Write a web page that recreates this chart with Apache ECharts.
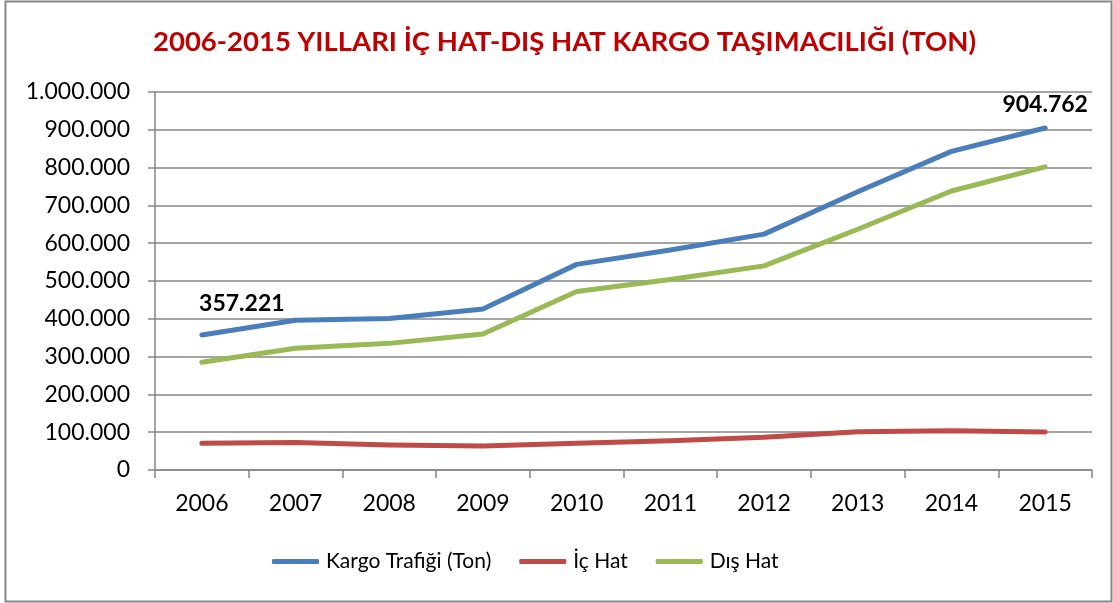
<!DOCTYPE html>
<html>
<head>
<meta charset="utf-8">
<script src="https://cdn.jsdelivr.net/npm/echarts@6/dist/echarts.min.js"></script>
<style>
  html, body { margin: 0; padding: 0; background: #fff; }
  #main { width: 1113px; height: 603px; }
</style>
</head>
<body>
<div id="main"></div>
<script>
// yillar
var years = ['2006', '2007', '2008', '2009', '2010', '2011', '2012', '2013', '2014', '2015'];
// toplam kargo trafigi (ton)
var kargo = [357221, 396000, 401000, 426000, 544000, 582000, 624000, 736000, 843000, 904762];
// ic hat
var icHat = [70500, 73000, 66000, 63500, 71000, 77500, 86500, 101000, 104000, 100500];
// dis hat
var disHat = [285000, 322000, 335000, 360000, 472000, 504000, 540000, 637000, 738000, 802000];

var FONT = 'Lato';
var GRAY = '#868686';

// 1.000.000 gibi nokta ayracli yazim
function fmt(v) {
    return String(Math.round(v)).replace(/\B(?=(\d{3})+(?!\d))/g, '.');
}

var kargoData = kargo.map(function (v, i) {
    var item = { value: v };
    if (i === 0) {
        item.label = { show: true, position: 'top', offset: [40, -14] };
    } else if (i === kargo.length - 1) {
        item.label = { show: true, position: 'top', offset: [0, -6] };
    }
    return item;
});

var myChart = echarts.init(document.getElementById('main'));

var option = {
    backgroundColor: '#fff',
    animation: false,
    title: {
        text: '2006-2015 YILLARI İÇ HAT-DIŞ HAT KARGO TAŞIMACILIĞI (TON)',
        left: 148,
        top: 23,
        textStyle: { fontFamily: FONT, fontSize: 27.5, fontWeight: 'bold', color: '#C00000' }
    },
    graphic: [{
        type: 'rect',
        shape: { x: 5.5, y: 1.5, width: 1106, height: 600 },
        style: { fill: 'none', stroke: GRAY, lineWidth: 2 },
        silent: true
    }],
    legend: {
        left: 267,
        top: 546,
        itemWidth: 47,
        itemHeight: 5,
        itemGap: 28,
        icon: 'roundRect',
        textStyle: { fontFamily: FONT, fontSize: 21, color: '#000', padding: [0, 0, 0, 2] },
        data: ['Kargo Trafiği (Ton)', 'İç Hat', 'Dış Hat']
    },
    grid: {
        left: 155,
        right: 21,
        top: 92,
        bottom: 133,
        containLabel: false
    },
    xAxis: {
        type: 'category',
        data: years,
        boundaryGap: true,
        axisLine: { lineStyle: { color: GRAY, width: 1.5 } },
        axisTick: { show: true, length: 8, lineStyle: { color: GRAY, width: 1.5 } },
        axisLabel: { fontFamily: FONT, fontSize: 23, color: '#000', margin: 22 }
    },
    yAxis: {
        type: 'value',
        min: 0,
        max: 1000000,
        interval: 100000,
        axisLine: { show: true, lineStyle: { color: GRAY, width: 1.5 } },
        axisTick: { show: true, inside: false, length: 7, lineStyle: { color: GRAY, width: 1.5 } },
        axisLabel: { fontFamily: FONT, fontSize: 23, color: '#000', margin: 25, formatter: fmt },
        splitLine: { show: true, lineStyle: { color: GRAY, width: 1.5 } }
    },
    series: [
        {
            name: 'Kargo Trafiği (Ton)',
            type: 'line',
            data: kargoData,
            showSymbol: true,
            symbol: 'circle',
            symbolSize: 1,
            color: '#4A7EBB',
            lineStyle: { width: 5, cap: 'round', join: 'round' },
            label: {
                show: false,
                fontFamily: FONT, fontSize: 23, fontWeight: 'bold', color: '#000',
                formatter: function (p) { return fmt(p.value); }
            },
            z: 4
        },
        {
            name: 'İç Hat',
            type: 'line',
            data: icHat,
            showSymbol: false,
            symbol: 'none',
            color: '#BE4B48',
            lineStyle: { width: 5, cap: 'round', join: 'round' },
            z: 3
        },
        {
            name: 'Dış Hat',
            type: 'line',
            data: disHat,
            showSymbol: false,
            symbol: 'none',
            color: '#98B954',
            lineStyle: { width: 5, cap: 'round', join: 'round' },
            z: 3
        }
    ]
};

myChart.setOption(option);
</script>
</body>
</html>
